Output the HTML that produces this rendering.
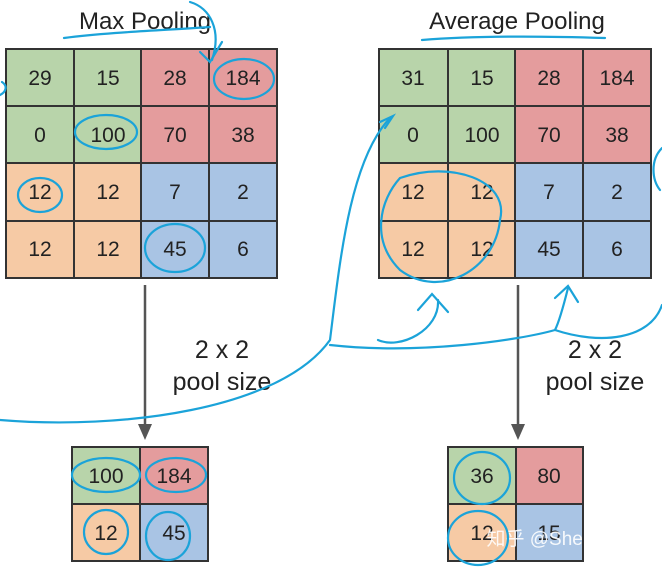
<!DOCTYPE html>
<html><head><style>
body{margin:0;background:#fff;width:662px;height:570px;overflow:hidden}
svg{display:block}
text{font-family:"Liberation Sans","Noto Sans CJK SC",sans-serif;fill:#222}
</style></head><body>
<svg width="662" height="570" viewBox="0 0 662 570">
<g font-size="24" text-anchor="middle">
<text x="145" y="29">Max Pooling</text>
<text x="517" y="29">Average Pooling</text>
</g>
<g stroke="#333" stroke-width="2">
<rect x="6" y="49" width="135" height="114" fill="#b8d4aa"/>
<rect x="141" y="49" width="136" height="114" fill="#e49c9d"/>
<rect x="6" y="163" width="135" height="115" fill="#f6caa5"/>
<rect x="141" y="163" width="136" height="115" fill="#a9c4e4"/>
<path d="M74 49V278M209 49V278M6 106H277M6 221H277" fill="none"/>
<rect x="379" y="49" width="136" height="114" fill="#b8d4aa"/>
<rect x="515" y="49" width="136" height="114" fill="#e49c9d"/>
<rect x="379" y="163" width="136" height="115" fill="#f6caa5"/>
<rect x="515" y="163" width="136" height="115" fill="#a9c4e4"/>
<path d="M448 49V278M583 49V278M379 106H651M379 221H651" fill="none"/>
<rect x="72" y="447" width="68" height="57" fill="#b8d4aa"/>
<rect x="140" y="447" width="68" height="57" fill="#e49c9d"/>
<rect x="72" y="504" width="68" height="57" fill="#f6caa5"/>
<rect x="140" y="504" width="68" height="57" fill="#a9c4e4"/>
<rect x="448" y="447" width="68" height="57" fill="#b8d4aa"/>
<rect x="516" y="447" width="67" height="57" fill="#e49c9d"/>
<rect x="448" y="504" width="68" height="57" fill="#f6caa5"/>
<rect x="516" y="504" width="67" height="57" fill="#a9c4e4"/>
</g>
<g font-size="21" text-anchor="middle">
<text x="40" y="85">29</text><text x="108" y="85">15</text><text x="175" y="85">28</text><text x="243" y="85">184</text>
<text x="40" y="142">0</text><text x="108" y="142">100</text><text x="175" y="142">70</text><text x="243" y="142">38</text>
<text x="40" y="199">12</text><text x="108" y="199">12</text><text x="175" y="199">7</text><text x="243" y="199">2</text>
<text x="40" y="256">12</text><text x="108" y="256">12</text><text x="175" y="256">45</text><text x="243" y="256">6</text>
<text x="413" y="85">31</text><text x="482" y="85">15</text><text x="549" y="85">28</text><text x="617" y="85">184</text>
<text x="413" y="142">0</text><text x="482" y="142">100</text><text x="549" y="142">70</text><text x="617" y="142">38</text>
<text x="413" y="199">12</text><text x="482" y="199">12</text><text x="549" y="199">7</text><text x="617" y="199">2</text>
<text x="413" y="256">12</text><text x="482" y="256">12</text><text x="549" y="256">45</text><text x="617" y="256">6</text>
<text x="106" y="483">100</text><text x="174" y="483">184</text>
<text x="106" y="540">12</text><text x="174" y="540">45</text>
<text x="482" y="483">36</text><text x="549" y="483">80</text>
<text x="482" y="540">12</text><text x="549" y="540">15</text>
</g>
<g stroke="#555" stroke-width="2.5" fill="#555">
<line x1="145" y1="285" x2="145" y2="425"/><path d="M138 424L152 424L145 440Z" stroke="none"/>
<line x1="518" y1="285" x2="518" y2="425"/><path d="M511 424L525 424L518 440Z" stroke="none"/>
</g>
<g font-size="25" text-anchor="middle">
<text x="222" y="358">2 x 2</text><text x="222" y="390">pool size</text>
<text x="595" y="358">2 x 2</text><text x="595" y="390">pool size</text>
</g>
<text x="563" y="545" font-size="19" text-anchor="middle" style="fill:#fff;opacity:.9">知乎 @Sherry.Tan</text>
<g stroke="#1ba3d9" stroke-width="2.2" fill="none" stroke-linecap="round">
<path d="M64 38C110 32 170 30 210 27"/>
<path d="M190 2C210 8 222 30 212 60"/>
<path d="M200 52L210 62L222 42"/>
<ellipse cx="244" cy="79" rx="30" ry="20"/>
<ellipse cx="106" cy="132" rx="31" ry="17"/>
<ellipse cx="40" cy="195" rx="22" ry="17"/>
<ellipse cx="175" cy="248" rx="30" ry="24"/>
<path d="M0 95C6 92 8 86 2 82"/>
<path d="M422 40C470 36 540 36 605 38"/>
<path d="M0 420C120 430 280 410 330 340C340 260 350 160 390 118"/>
<path d="M380 122L393 116L385 128"/>
<path d="M400 178C450 160 510 180 500 220C495 270 440 300 400 270C370 240 380 200 400 178Z"/>
<path d="M378 340C400 350 440 330 438 300"/>
<path d="M418 310L432 294L448 312"/>
<path d="M330 345C420 355 520 340 555 330C560 320 565 300 568 288"/>
<path d="M555 298L568 286L578 302"/>
<path d="M555 330C600 345 650 340 662 305"/>
<path d="M662 148C650 160 652 180 660 190"/>
<ellipse cx="106" cy="475" rx="34" ry="17"/>
<ellipse cx="176" cy="475" rx="30" ry="17"/>
<ellipse cx="106" cy="532" rx="22" ry="22"/>
<ellipse cx="168" cy="536" rx="22" ry="24"/>
<ellipse cx="482" cy="478" rx="28" ry="26"/>
<ellipse cx="478" cy="538" rx="30" ry="27"/>
</g>
</svg>
</body></html>
